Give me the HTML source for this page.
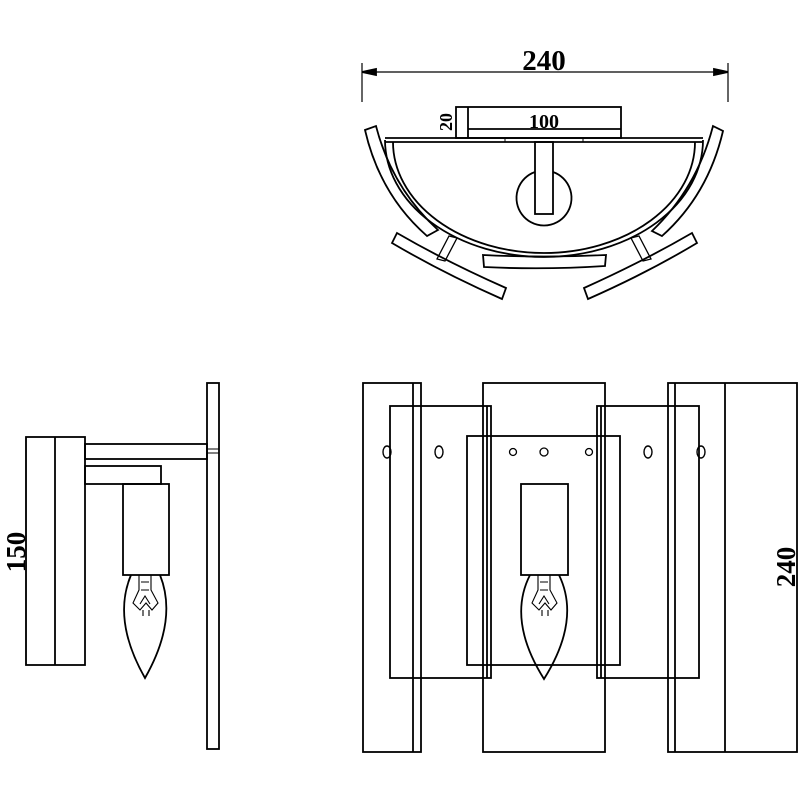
<!DOCTYPE html>
<html><head><meta charset="utf-8"><style>
html,body{margin:0;padding:0;background:#fff;}
svg{display:block}
text{font-family:"Liberation Serif",serif;fill:#000}
</style></head><body>
<svg width="800" height="800" viewBox="0 0 800 800" xmlns="http://www.w3.org/2000/svg">
<g fill="none" stroke="#000" stroke-width="1.8">
<!-- TOP VIEW -->
<line x1="362" y1="63" x2="362" y2="102" stroke-width="1.2"/>
<line x1="728" y1="63" x2="728" y2="102" stroke-width="1.2"/>
<line x1="362" y1="72" x2="728" y2="72" stroke-width="1.2"/>
<path d="M362,72 l14,-3 l0,6 z M728,72 l-14,-3 l0,6 z" fill="#000"/>
<rect x="456" y="107" width="165" height="31"/>
<line x1="468" y1="107" x2="468" y2="138"/>
<line x1="468" y1="129" x2="621" y2="129"/>
<line x1="385" y1="138" x2="703" y2="138"/>
<line x1="385" y1="142" x2="703" y2="142"/>
<path d="M385,140 A159,117 0 0 0 703,140"/>
<path d="M393,142 A151,111 0 0 0 695,142"/>
<rect x="535" y="142" width="18" height="72"/>
<path d="M535,172 A27.5,27.5 0 1 0 553,172"/>
<path d="M365,130 Q380,195 427,236 L438,230 Q392,188 376,126 Z"/>
<path d="M723,131 Q708,195 662,236 L652,231 Q697,188 713,126 Z"/>
<path d="M397,233 Q447,262 506,288 L502,299 Q443,273 392,243 Z"/>
<path d="M692,233 Q642,262 584,288 L588,299 Q647,273 697,243 Z"/>
<path d="M483,255 Q544,258 606,255 L605,266 Q544,270 484,267 Z"/>
<path d="M449,236 L457,238 L445,261 L437,259 Z" stroke-width="1.3"/>
<path d="M639,236 L631,238 L643,261 L651,259 Z" stroke-width="1.3"/>
<line x1="505" y1="139" x2="505" y2="142" stroke-width="1"/>
<line x1="583" y1="139" x2="583" y2="142" stroke-width="1"/>
<!-- SIDE VIEW -->
<rect x="207" y="383" width="12" height="366"/>
<line x1="207" y1="449" x2="219" y2="449" stroke-width="1"/>
<line x1="207" y1="453" x2="219" y2="453" stroke-width="1"/>
<rect x="26" y="437" width="59" height="228"/>
<line x1="55" y1="437" x2="55" y2="665"/>
<rect x="85" y="444" width="122" height="15"/>
<rect x="85" y="466" width="76" height="18"/>
<rect x="123" y="484" width="46" height="91"/>
<path d="M131,575 Q112,620 145,678 Q178,620 160,575"/>
<path d="M139,575 L139,590 L133,603 L140,610 L146,603 L152,610 L158,603 L151,590 L151,575 M141,590 L149,590 M141,582 L149,582 M143,610 L143,616 M149,610 L149,616 M140,604 L145,596 L150,604" stroke-width="1.1"/>
<line x1="26" y1="437" x2="26" y2="665" stroke-width="1.2"/>
<!-- FRONT VIEW -->
<rect x="363" y="383" width="58" height="369"/>
<line x1="413" y1="383" x2="413" y2="752"/>
<rect x="483" y="383" width="122" height="369"/>
<rect x="668" y="383" width="129" height="369"/>
<line x1="675" y1="383" x2="675" y2="752"/>
<line x1="725" y1="383" x2="725" y2="752"/>
<rect x="390" y="406" width="101" height="272"/>
<line x1="487" y1="406" x2="487" y2="678"/>
<rect x="597" y="406" width="102" height="272"/>
<line x1="601" y1="406" x2="601" y2="678"/>
<rect x="467" y="436" width="153" height="229"/>
<rect x="521" y="484" width="47" height="91"/>
<path d="M530,575 Q507,620 544,679 Q581,620 559,575"/>
<path d="M538,575 L538,590 L532,603 L539,610 L545,603 L551,610 L557,603 L550,590 L550,575 M540,590 L548,590 M540,582 L548,582 M542,610 L542,616 M548,610 L548,616 M539,604 L544,596 L549,604" stroke-width="1.1"/>
<ellipse cx="387" cy="452" rx="4" ry="6" stroke-width="1.4"/>
<ellipse cx="439" cy="452" rx="4" ry="6" stroke-width="1.4"/>
<ellipse cx="648" cy="452" rx="4" ry="6" stroke-width="1.4"/>
<ellipse cx="701" cy="452" rx="4" ry="6" stroke-width="1.4"/>
<circle cx="513" cy="452" r="3.5" stroke-width="1.3"/>
<circle cx="544" cy="452" r="4" stroke-width="1.3"/>
<circle cx="589" cy="452" r="3.5" stroke-width="1.3"/>
</g>
<text x="544" y="70" font-size="29" font-weight="bold" text-anchor="middle">240</text>
<text x="544" y="128" font-size="20" font-weight="bold" text-anchor="middle" font-family="Liberation Sans, sans-serif">100</text>
<text transform="translate(452,122) rotate(-90)" font-size="18" font-weight="bold" text-anchor="middle" font-family="Liberation Sans, sans-serif">20</text>
<text transform="translate(25,552) rotate(-90)" font-size="27" font-weight="bold" text-anchor="middle">150</text>
<text transform="translate(795,567) rotate(-90)" font-size="27" font-weight="bold" text-anchor="middle">240</text>
</svg>
</body></html>
